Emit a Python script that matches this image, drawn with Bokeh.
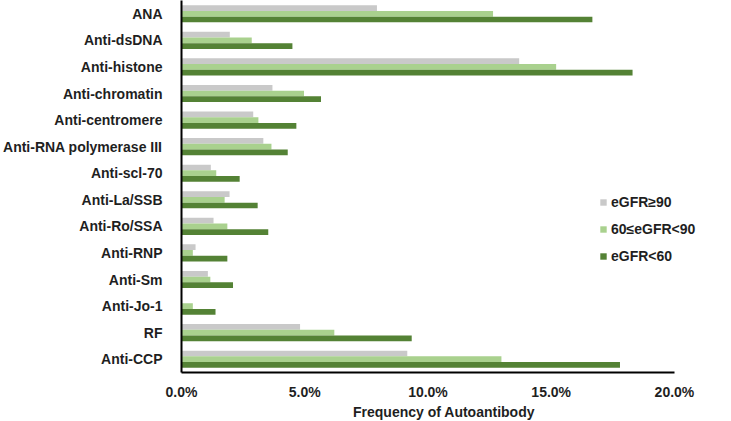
from bokeh.plotting import figure
from bokeh.models import (Range1d, FixedTicker, PrintfTickFormatter, Legend, LegendItem,
                          ColumnDataSource)
from bokeh.transform import dodge
from bokeh.embed import file_html
from bokeh.resources import INLINE

categories = ["ANA", "Anti-dsDNA", "Anti-histone", "Anti-chromatin", "Anti-centromere",
              "Anti-RNA polymerase III", "Anti-scl-70", "Anti-La/SSB", "Anti-Ro/SSA",
              "Anti-RNP", "Anti-Sm", "Anti-Jo-1", "RF", "Anti-CCP"]
egfr_ge90 = [7.93, 1.96, 13.7, 3.69, 2.91, 3.32, 1.19, 1.95, 1.30, 0.57, 1.07, 0.0, 4.81, 9.16]
egfr_60_90 = [12.64, 2.85, 15.2, 4.97, 3.12, 3.65, 1.41, 1.75, 1.86, 0.46, 1.17, 0.46, 6.20, 12.98]
egfr_lt60 = [16.67, 4.50, 18.3, 5.66, 4.66, 4.31, 2.36, 3.09, 3.52, 1.86, 2.09, 1.38, 9.34, 17.79]
series_names = ["eGFR\u226590", "60\u2264eGFR<90", "eGFR<60"]
series_colors = ["#C9C9C9", "#A9D18E", "#548235"]
x_ticks = [0, 5, 10, 15, 20]

n = len(categories)
ypos = [n - 1 - i for i in range(n)]
src = ColumnDataSource(dict(y=ypos, s0=egfr_ge90, s1=egfr_60_90, s2=egfr_lt60))

FONT = "Liberation Sans"
TXT = "#1f1f1f"
FS = "14px"

p = figure(frame_width=525, frame_height=372, output_backend="svg", toolbar_location=None,
           x_range=Range1d(0, 21.3), y_range=Range1d(-0.5, n - 0.5),
           min_border_left=180, min_border_top=0, min_border_right=8, min_border_bottom=0)
p.outline_line_color = None
p.xgrid.visible = False
p.ygrid.visible = False

offsets = [0.215, 0.0, -0.215]
renderers = []
for k, (col, c) in enumerate(zip(["s0", "s1", "s2"], series_colors)):
    r = p.hbar(y=dodge("y", offsets[k]), right=col, left=0, height=0.215, source=src,
               fill_color=c, line_color=None)
    renderers.append(r)

legend = Legend(items=[LegendItem(label=nm, renderers=[r]) for nm, r in zip(series_names, renderers)],
                location=(418, 106), padding=0, margin=0, spacing=7,
                glyph_width=8, glyph_height=8, label_standoff=4, label_height=20,
                border_line_color=None, background_fill_alpha=0,
                label_text_font=FONT, label_text_font_style="bold",
                label_text_font_size=FS, label_text_color=TXT)
p.add_layout(legend, "center")

# y axis
p.yaxis.ticker = FixedTicker(ticks=ypos)
p.yaxis.major_label_overrides = {y: c for y, c in zip(ypos, categories)}
p.yaxis.major_tick_line_color = None
p.yaxis.minor_tick_line_color = None
p.yaxis.axis_line_color = "black"
p.yaxis.axis_line_width = 2
p.yaxis.major_label_standoff = 13
p.yaxis.major_label_text_font = FONT
p.yaxis.major_label_text_font_style = "bold"
p.yaxis.major_label_text_font_size = FS
p.yaxis.major_label_text_color = TXT

# x axis
p.xaxis.ticker = FixedTicker(ticks=x_ticks)
p.xaxis.bounds = (0, 20)
p.xaxis.formatter = PrintfTickFormatter(format="%.1f%%")
p.xaxis.major_tick_line_color = None
p.xaxis.minor_tick_line_color = None
p.xaxis.axis_line_color = "black"
p.xaxis.axis_line_width = 2
p.xaxis.major_label_standoff = 5
p.xaxis.major_label_text_font = FONT
p.xaxis.major_label_text_font_style = "bold"
p.xaxis.major_label_text_font_size = FS
p.xaxis.major_label_text_color = TXT
p.xaxis.axis_label = "Frequency of Autoantibody"
p.xaxis.axis_label_standoff = 1
p.xaxis.axis_label_text_font = FONT
p.xaxis.axis_label_text_font_style = "bold"
p.xaxis.axis_label_text_font_size = FS
p.xaxis.axis_label_text_color = TXT

open("out.html", "w").write(file_html(p, INLINE))
